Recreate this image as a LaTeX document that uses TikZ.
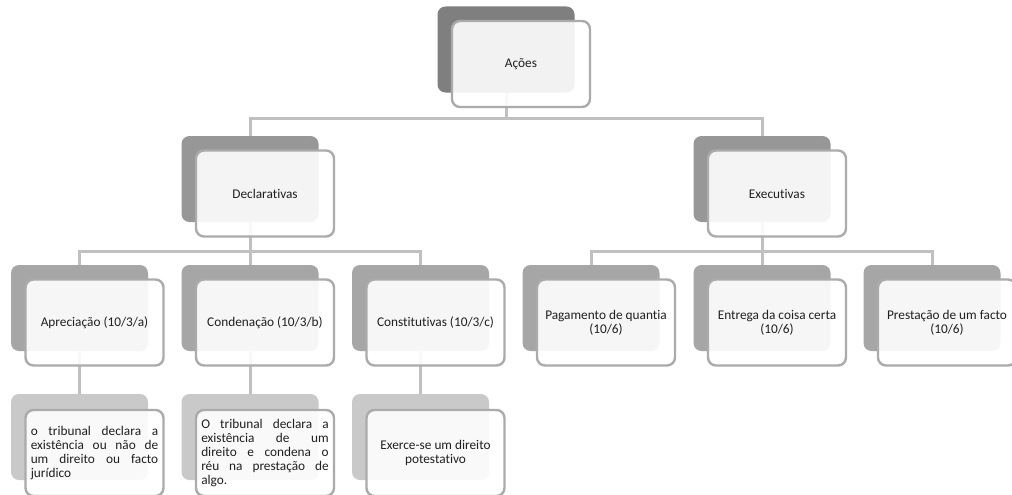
\documentclass[tikz,border=0pt]{standalone}
\usepackage{fontspec}
\setmainfont{Carlito}[Ligatures=NoCommon]
\usetikzlibrary{backgrounds}
\hyphenpenalty=10000
\exhyphenpenalty=10000
\definecolor{connc}{HTML}{C0C0C0}
\definecolor{bordc}{HTML}{ABABAB}
\definecolor{lvA}{HTML}{7F7F7F}
\definecolor{lvB}{HTML}{979797}
\definecolor{lvC}{HTML}{A6A6A6}
\definecolor{lvD}{HTML}{C9C9C9}
\begin{document}
\begin{tikzpicture}[x=1pt,y=-1pt,
  conn/.style={draw=connc,line width=3pt},
  backbox/.style={fill=#1,rounded corners=8pt,minimum width=137pt,minimum height=86pt,inner sep=0pt,draw=none},
  frontbox/.style={draw=bordc,line width=2.4pt,fill=white,fill opacity=0.9,text opacity=1,rounded corners=8pt,
    minimum width=138pt,minimum height=86pt,inner sep=0pt,font=\fontsize{13.3}{13.8}\selectfont,align=center,text=black!88},
  leafbox/.style={frontbox,text width=127.5pt,align=justify}]
\useasboundingbox (0,0) rectangle (1012,495);
\coordinate (bus1) at (0,118);
\coordinate (bus2) at (0,251);
% back boxes
\node[backbox=lvA] (acoesb) at (506,49.5) {};
\node[backbox=lvB] (declb) at (250,179) {};
\node[backbox=lvB] (execb) at (762,179) {};
\node[backbox=lvC] (aprb) at (79.5,308) {};
\node[backbox=lvC] (condb) at (250,308) {};
\node[backbox=lvC] (constb) at (420.5,308) {};
\node[backbox=lvC] (pagb) at (591,308) {};
\node[backbox=lvC] (entb) at (762,308) {};
\node[backbox=lvC] (presb) at (932,308) {};
\node[backbox=lvD] (aprlb) at (79.5,437) {};
\node[backbox=lvD] (condlb) at (250,437) {};
\node[backbox=lvD] (constlb) at (420.5,437) {};
% connectors (behind)
\begin{scope}[on background layer]
\fill[white] (0,0) rectangle (1012,495);
\draw[conn] (acoesb.center) -- (acoesb.center |- bus1) -| (declb.center);
\draw[conn] (acoesb.center |- bus1) -| (execb.center);
\draw[conn] (declb.center) -- (declb.center |- bus2) -| (aprb.center);
\draw[conn] (declb.center |- bus2) -| (constb.center);
\draw[conn] (declb.center |- bus2) -- (condb.center);
\draw[conn] (execb.center) -- (execb.center |- bus2) -| (pagb.center);
\draw[conn] (execb.center |- bus2) -| (presb.center);
\draw[conn] (execb.center |- bus2) -- (entb.center);
\draw[conn] (aprb.center) -- (aprlb.center);
\draw[conn] (condb.center) -- (condlb.center);
\draw[conn] (constb.center) -- (constlb.center);
\end{scope}
% front boxes
\node[frontbox] (acoes) at (521,64) {Ações};
\node[frontbox] (decl) at (265,193.5) {Declarativas};
\node[frontbox] (exec) at (777,193.5) {Executivas};
\node[frontbox] (apr) at (94.5,322.5) {Apreciação (10/3/a)};
\node[frontbox] (cond) at (265,322.5) {Condenação (10/3/b)};
\node[frontbox] (const) at (435.5,322.5) {Constitutivas (10/3/c)};
\node[frontbox] (pag) at (606,322.5) {Pagamento de quantia\\(10/6)};
\node[frontbox] (ent) at (777,322.5) {Entrega da coisa certa\\(10/6)};
\node[frontbox] (pres) at (947,322.5) {Prestação de um facto\\(10/6)};
\node[leafbox] (aprl) at (94.5,453) {o tribunal declara a\linebreak existência ou não de\linebreak um direito ou facto\linebreak jurídico};
\node[leafbox] (condl) at (265,453) {O tribunal declara a\linebreak existência de um\linebreak direito e condena o\linebreak réu na prestação de\linebreak algo.};
\node[frontbox] (constl) at (435.5,453) {Exerce-se um direito\\potestativo};
\end{tikzpicture}
\end{document}
